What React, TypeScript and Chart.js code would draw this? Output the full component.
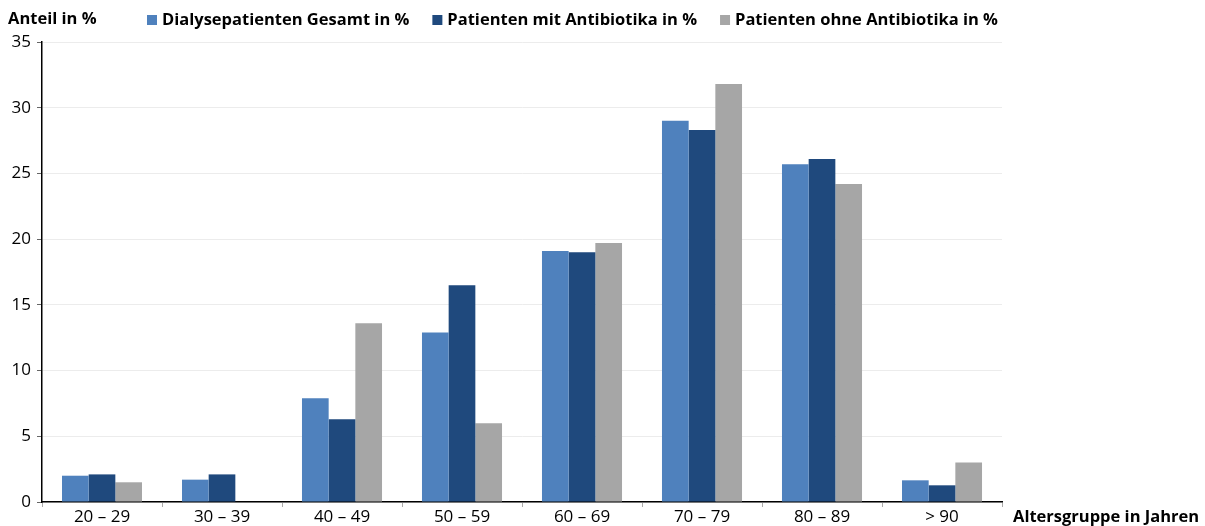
import { useEffect, useRef } from "react";
import { Chart, registerables } from "chart.js";

Chart.register(...registerables);

const categories = ["20 – 29", "30 – 39", "40 – 49", "50 – 59", "60 – 69", "70 – 79", "80 – 89", "> 90"];
const seriesLabels = [
  "Dialysepatienten Gesamt in %",
  "Patienten mit Antibiotika in %",
  "Patienten ohne Antibiotika in %",
];
const gesamt = [2.0, 1.7, 7.9, 12.9, 19.1, 29.0, 25.7, 1.65];
const mitAntibiotika = [2.1, 2.1, 6.3, 16.5, 19.0, 28.3, 26.1, 1.27];
const ohneAntibiotika = [1.5, null, 13.6, 6.0, 19.7, 31.8, 24.2, 3.0];
const seriesColors = ["#4f81bd", "#1f497d", "#a6a6a6"];
const yMin = 0;
const yMax = 35;
const yStep = 5;
const yTitle = "Anteil in %";
const xTitle = "Altersgruppe in Jahren";

const FONT = "'Open Sans', 'Noto Sans', sans-serif";

const overlayPlugin = {
  id: "overlay",
  afterDraw(chart: any) {
    const ctx = chart.ctx;
    const area = chart.chartArea;
    ctx.save();
    ctx.fillStyle = "#000";
    ctx.font = `bold 16.5px ${FONT}`;
    ctx.textBaseline = "middle";
    ctx.textAlign = "left";
    ctx.fillText(yTitle, 8, 19);
    ctx.fillText(xTitle, area.right + 11, 517);
    // legend
    let x = 147;
    const y = 20;
    chart.data.datasets.forEach((ds: any) => {
      ctx.fillStyle = ds.backgroundColor;
      ctx.fillRect(x, y - 5, 10, 10);
      ctx.fillStyle = "#000";
      ctx.fillText(ds.label, x + 15, y);
      x += 15 + ctx.measureText(ds.label).width + 23;
    });
    ctx.restore();
  },
};

export default function App() {
  const ref = useRef<HTMLCanvasElement | null>(null);
  useEffect(() => {
    if (!ref.current) return;
    const chart = new Chart(ref.current, {
      type: "bar",
      data: {
        labels: categories,
        datasets: [
          { label: seriesLabels[0], data: gesamt, backgroundColor: seriesColors[0] },
          { label: seriesLabels[1], data: mitAntibiotika, backgroundColor: seriesColors[1] },
          { label: seriesLabels[2], data: ohneAntibiotika as any, backgroundColor: seriesColors[2] },
        ],
      },
      options: {
        responsive: false,
        animation: false,
        devicePixelRatio: 1,
        layout: { padding: { top: 42, right: 203, bottom: 0, left: 0 } },
        datasets: { bar: { categoryPercentage: 0.667, barPercentage: 1, borderWidth: 0 } },
        plugins: {
          legend: { display: false },
          tooltip: { enabled: false },
          title: { display: false },
        },
        scales: {
          x: {
            offset: true,
            grid: {
              display: true,
              drawOnChartArea: false,
              drawTicks: true,
              tickLength: 5,
              tickColor: "#aaaaaa",
              offset: true,
            },
            border: { display: true, color: "#000", width: 1.5 },
            ticks: {
              color: "#000",
              font: { family: FONT, size: 17 },
              padding: 0,
              maxRotation: 0,
              autoSkip: false,
            },
            afterFit(scale: any) {
              scale.height = 24;
            },
          },
          y: {
            min: yMin,
            max: yMax,
            grid: {
              color: "#ececec",
              lineWidth: 1,
              tickLength: 5,
              tickColor: "#666",
            },
            border: { display: true, color: "#000", width: 1.5 },
            ticks: {
              stepSize: yStep,
              color: "#000",
              font: { family: FONT, size: 17 },
              padding: 6,
            },
            afterFit(scale: any) {
              scale.width = 42;
            },
          },
        },
      },
      plugins: [overlayPlugin],
    });
    return () => chart.destroy();
  }, []);
  return (
    <div style={{ position: "absolute", left: 0, top: 0, width: 1205, height: 526, background: "#fff" }}>
      <canvas ref={ref} width={1205} height={526} style={{ display: "block" }} />
    </div>
  );
}
